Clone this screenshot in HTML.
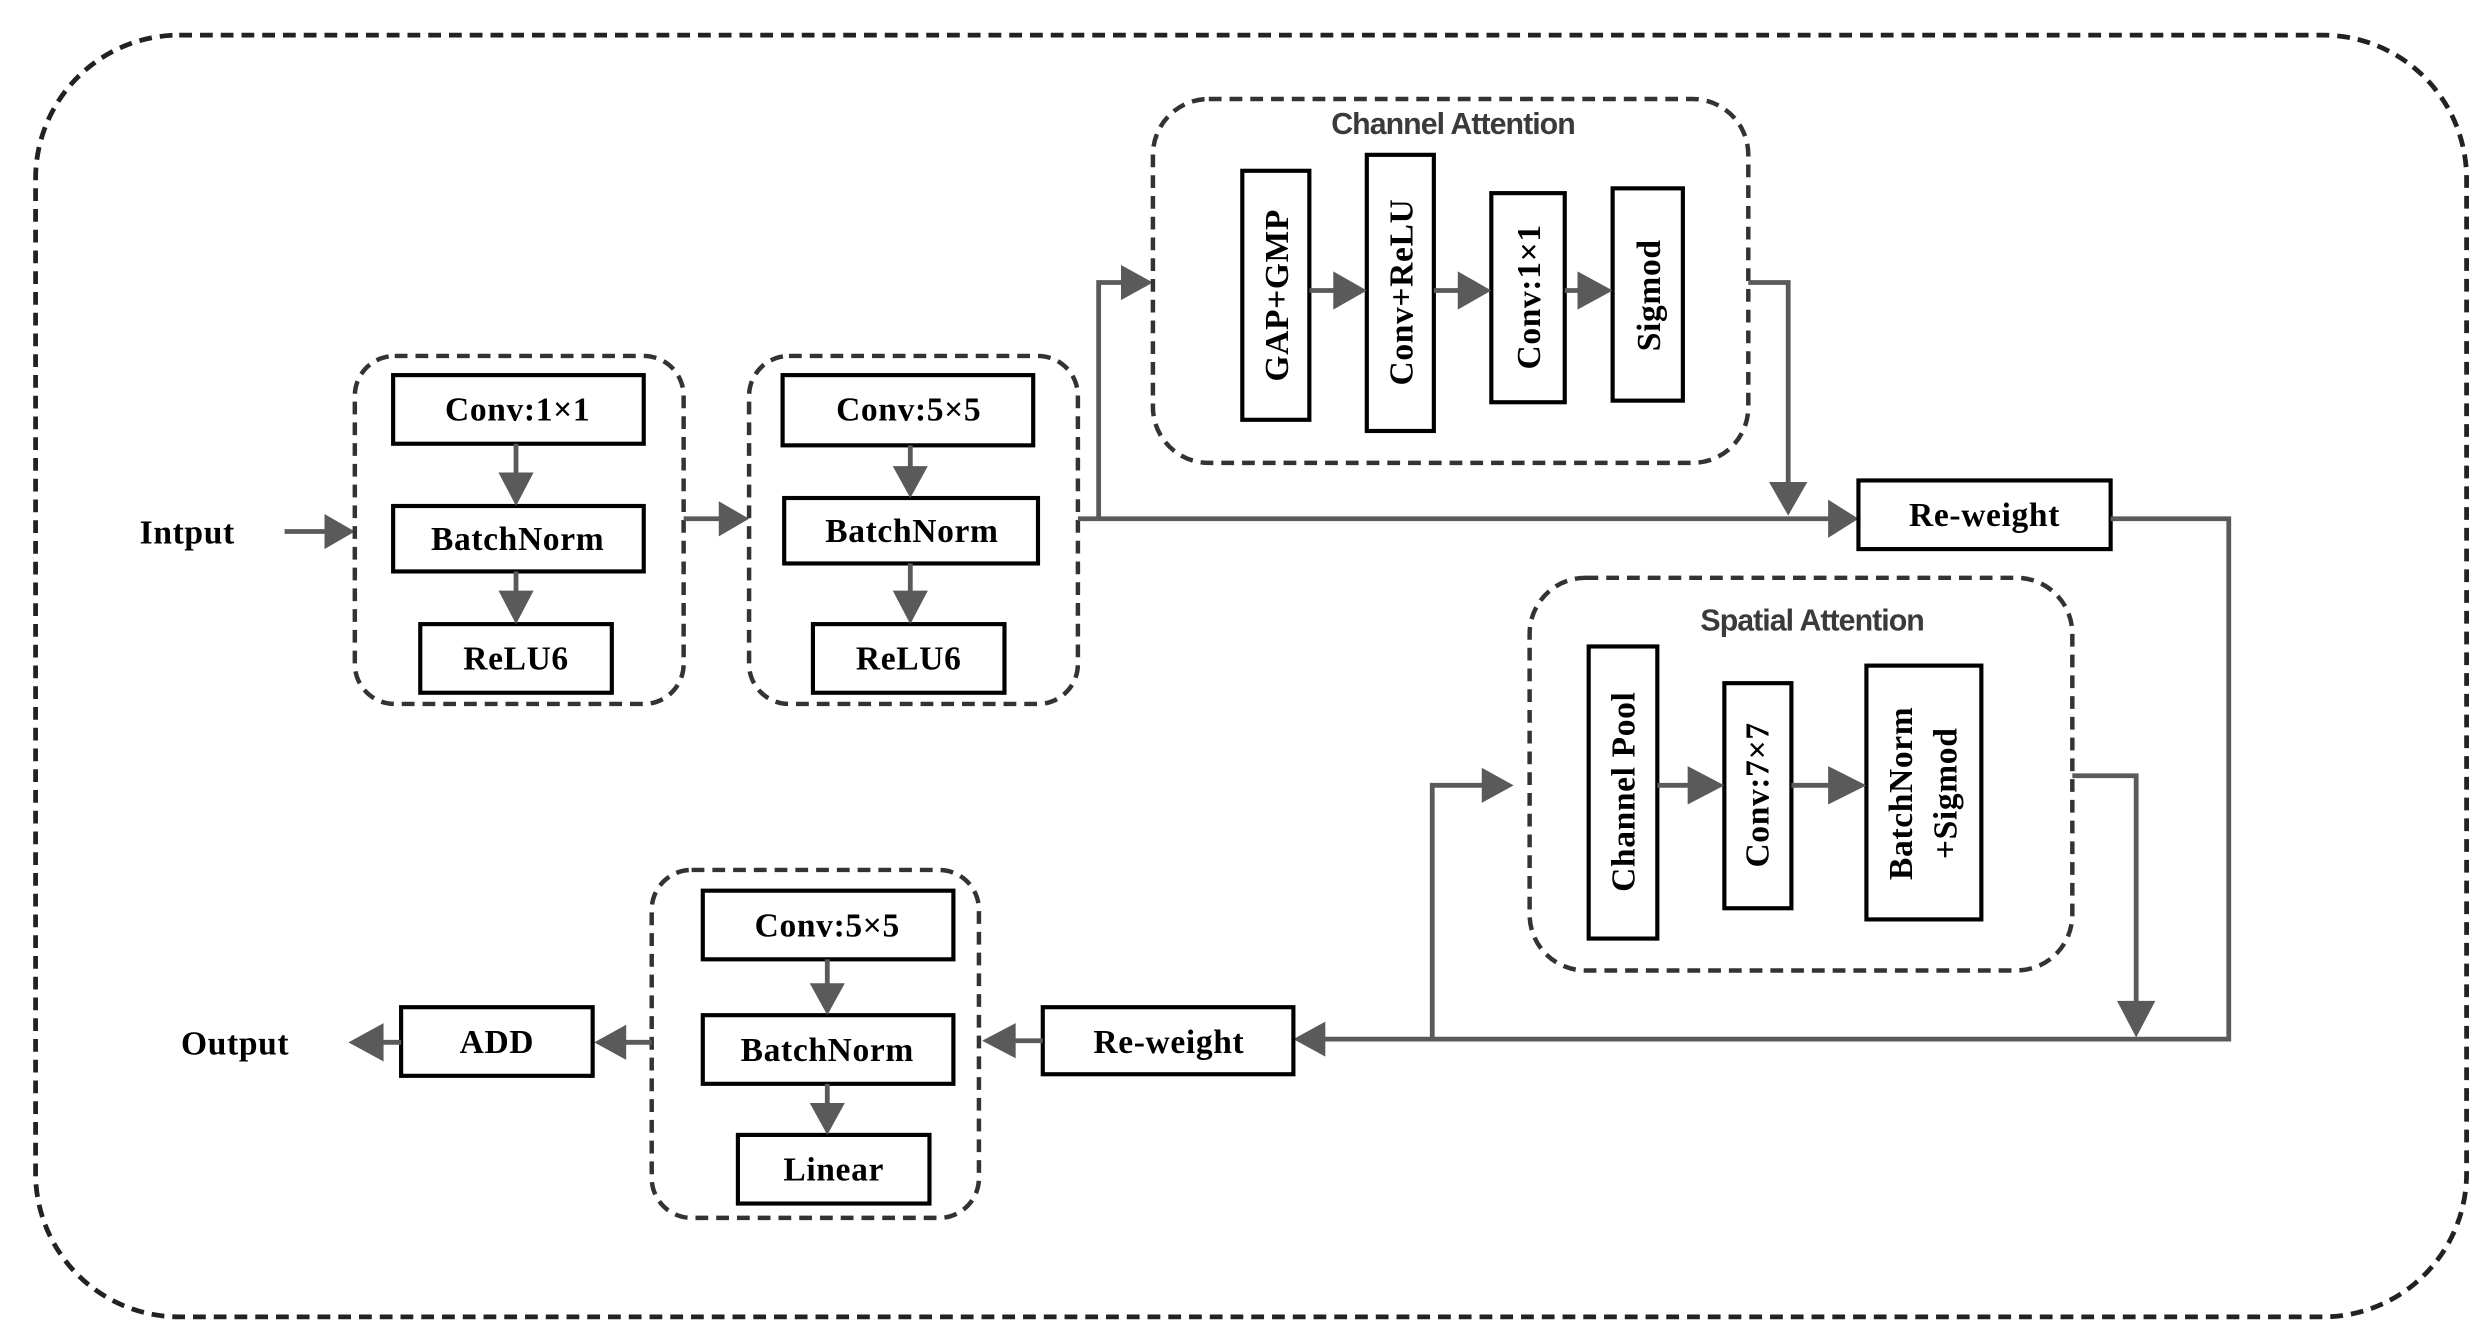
<!DOCTYPE html>
<html><head><meta charset="utf-8"><style>
html,body{margin:0;padding:0;background:#fff;}
svg{display:block;}
.b{fill:#fff;stroke:#000;stroke-width:2.6;}
.d{fill:none;stroke:#333;stroke-width:2.8;stroke-dasharray:8 5;}
.l{fill:none;stroke:#5a5a5a;stroke-width:3;}
.t{font-family:"Liberation Serif",serif;font-weight:bold;font-size:21px;fill:#000;text-anchor:middle;dominant-baseline:central;letter-spacing:0.4px;}
.h{font-family:"Liberation Sans",sans-serif;font-weight:bold;font-size:19px;fill:#3a3a3a;text-anchor:middle;dominant-baseline:central;letter-spacing:-0.6px;}
.a{fill:#5a5a5a;}
</style></head><body>
<svg width="2491" height="1344" viewBox="0 0 1560 842" xmlns="http://www.w3.org/2000/svg">
<rect x="22" y="22" width="1523" height="803" rx="90" class="d" style="stroke:#222;stroke-width:3"/>

<text x="117" y="334" class="t">Intput</text>
<line x1="178" y1="333" x2="205" y2="333" class="l"/><path d="M203,322 L222,333 L203,344z" class="a"/>

<rect x="222" y="223" width="206" height="218" rx="25" class="d"/>
<rect x="246" y="235" width="157" height="43" class="b"/><text x="324" y="257" class="t">Conv:1×1</text>
<rect x="246" y="317" width="157" height="41" class="b"/><text x="324" y="338" class="t">BatchNorm</text>
<rect x="263" y="391" width="120" height="43" class="b"/><text x="323" y="413" class="t">ReLU6</text>
<line x1="323" y1="278" x2="323" y2="300" class="l"/><path d="M312,296 L323,317 L334,296z" class="a"/>
<line x1="323" y1="358" x2="323" y2="374" class="l"/><path d="M312,370 L323,391 L334,370z" class="a"/>

<line x1="428" y1="325" x2="452" y2="325" class="l"/><path d="M450,314 L469,325 L450,336z" class="a"/>

<rect x="469" y="223" width="206" height="218" rx="25" class="d"/>
<rect x="490" y="235" width="157" height="44" class="b"/><text x="569" y="257" class="t">Conv:5×5</text>
<rect x="491" y="312" width="159" height="41" class="b"/><text x="571" y="333" class="t">BatchNorm</text>
<rect x="509" y="391" width="120" height="43" class="b"/><text x="569" y="413" class="t">ReLU6</text>
<line x1="570" y1="279" x2="570" y2="296" class="l"/><path d="M559,292 L570,312 L581,292z" class="a"/>
<line x1="570" y1="353" x2="570" y2="374" class="l"/><path d="M559,370 L570,391 L581,370z" class="a"/>

<polyline points="675,325 1148,325" class="l"/><path d="M1145,313 L1164,325 L1145,337z" class="a"/>
<polyline points="688,325 688,177 704,177" class="l"/><path d="M702,166 L722,177 L702,188z" class="a"/>

<rect x="722" y="62" width="373" height="228" rx="35" class="d"/>
<text x="910" y="78" class="h">Channel Attention</text>
<rect x="778" y="107" width="42" height="156" class="b"/><text class="t" transform="translate(800,185) rotate(-90)">GAP+GMP</text>
<rect x="856" y="97" width="42" height="173" class="b"/><text class="t" transform="translate(878,183) rotate(-90)">Conv+ReLU</text>
<rect x="934" y="121" width="46" height="131" class="b"/><text class="t" transform="translate(958,186) rotate(-90)">Conv:1×1</text>
<rect x="1010" y="118" width="44" height="133" class="b"/><text class="t" transform="translate(1033,185) rotate(-90)">Sigmod</text>
<line x1="820" y1="182" x2="838" y2="182" class="l"/><path d="M835,170 L856,182 L835,194z" class="a"/>
<line x1="898" y1="182" x2="916" y2="182" class="l"/><path d="M913,170 L934,182 L913,194z" class="a"/>
<line x1="980" y1="182" x2="992" y2="182" class="l"/><path d="M988,170 L1010,182 L988,194z" class="a"/>
<polyline points="1095,177 1120,177 1120,305" class="l"/><path d="M1108,302 L1120,323 L1132,302z" class="a"/>

<rect x="1164" y="301" width="158" height="43" class="b"/><text x="1243" y="323" class="t">Re-weight</text>
<polyline points="1322,325 1396,325 1396,651 828,651" class="l"/><path d="M830,640 L810,651 L830,662z" class="a"/>

<polyline points="897,651 897,492 930,492" class="l"/><path d="M928,481 L948,492 L928,503z" class="a"/>
<rect x="958" y="362" width="340" height="246" rx="35" class="d"/>
<text x="1135" y="389" class="h">Spatial Attention</text>
<rect x="995" y="405" width="43" height="183" class="b"/><text class="t" transform="translate(1017,496) rotate(-90)">Channel  Pool</text>
<rect x="1080" y="428" width="42" height="141" class="b"/><text class="t" transform="translate(1101,498) rotate(-90)">Conv:7×7</text>
<rect x="1169" y="417" width="72" height="159" class="b"/>
<text class="t" transform="translate(1191,497) rotate(-90)">BatchNorm</text>
<text class="t" transform="translate(1219,497) rotate(-90)">+Sigmod</text>
<line x1="1038" y1="492" x2="1060" y2="492" class="l"/><path d="M1057,480 L1080,492 L1057,504z" class="a"/>
<line x1="1122" y1="492" x2="1147" y2="492" class="l"/><path d="M1145,480 L1169,492 L1145,504z" class="a"/>
<polyline points="1298,486 1338,486 1338,630" class="l"/><path d="M1326,627 L1338,650 L1350,627z" class="a"/>

<rect x="653" y="631" width="157" height="42" class="b"/><text x="732" y="653" class="t">Re-weight</text>
<line x1="653" y1="652" x2="633" y2="652" class="l"/><path d="M636,641 L615,652 L636,663z" class="a"/>

<rect x="408" y="545" width="205" height="218" rx="25" class="d"/>
<rect x="440" y="558" width="157" height="43" class="b"/><text x="518" y="580" class="t">Conv:5×5</text>
<rect x="440" y="636" width="157" height="43" class="b"/><text x="518" y="658" class="t">BatchNorm</text>
<rect x="462" y="711" width="120" height="43" class="b"/><text x="522" y="733" class="t">Linear</text>
<line x1="518" y1="601" x2="518" y2="620" class="l"/><path d="M507,616 L518,636 L529,616z" class="a"/>
<line x1="518" y1="679" x2="518" y2="695" class="l"/><path d="M507,691 L518,711 L529,691z" class="a"/>

<line x1="408" y1="653" x2="390" y2="653" class="l"/><path d="M392,642 L372,653 L392,664z" class="a"/>
<rect x="251" y="631" width="120" height="43" class="b"/><text x="311" y="653" class="t">ADD</text>
<line x1="251" y1="653" x2="236" y2="653" class="l"/><path d="M240,641 L218,653 L240,665z" class="a"/>
<text x="147" y="654" class="t">Output</text>
</svg>
</body></html>
